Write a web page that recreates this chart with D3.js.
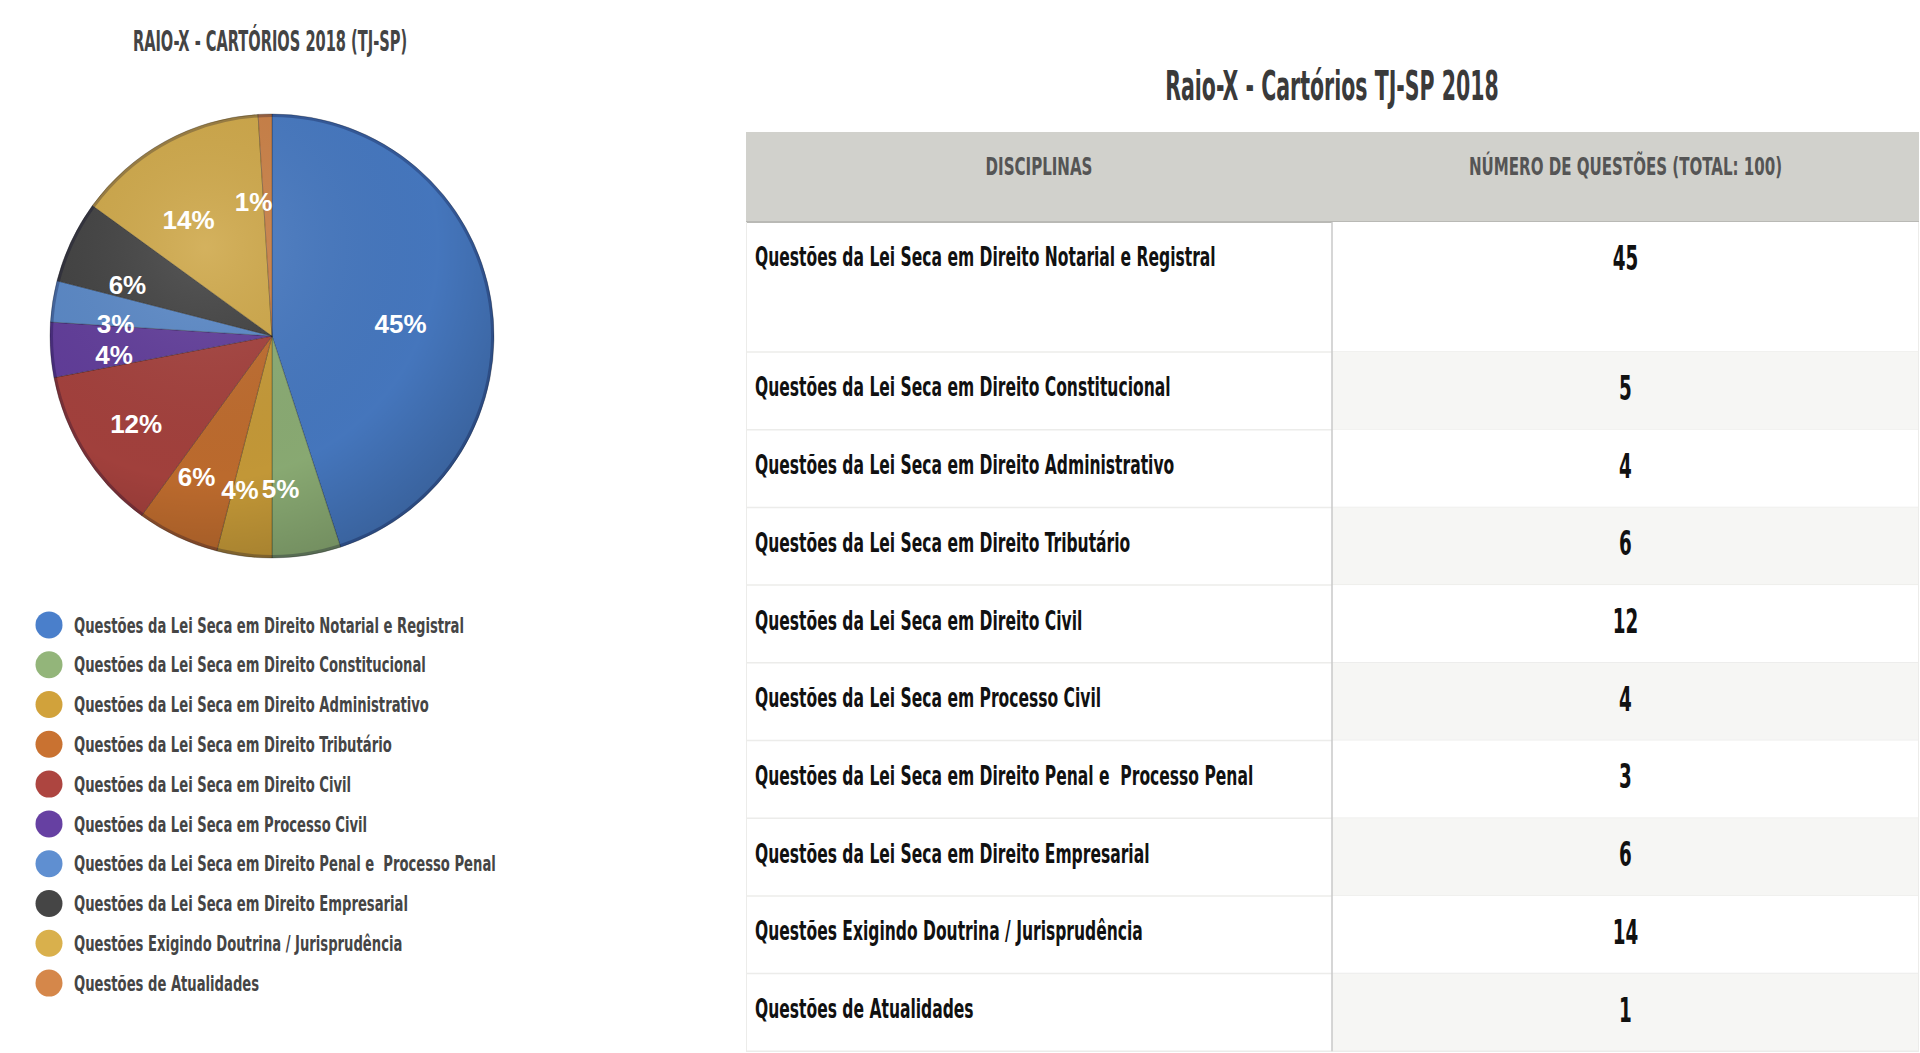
<!DOCTYPE html>
<html>
<head>
<meta charset="utf-8">
<script src="https://cdn.jsdelivr.net/npm/d3@7"></script>
<style>
  html, body { margin: 0; padding: 0; background: #fff; }
  svg { display: block; }
  .cond { font-family: "Liberation Sans Narrow", "DejaVu Sans Condensed", "Liberation Sans", sans-serif; font-weight: bold; font-stretch: condensed; white-space: pre; }
  .pct { font-family: "Liberation Sans", Arial, sans-serif; fill: #fff; font-weight: bold; }
</style>
</head>
<body>
<div id="chart"></div>
<script>
// data
var disciplinas = [
  "Questões da Lei Seca em Direito Notarial e Registral",
  "Questões da Lei Seca em Direito Constitucional",
  "Questões da Lei Seca em Direito Administrativo",
  "Questões da Lei Seca em Direito Tributário",
  "Questões da Lei Seca em Direito Civil",
  "Questões da Lei Seca em Processo Civil",
  "Questões da Lei Seca em Direito Penal e  Processo Penal",
  "Questões da Lei Seca em Direito Empresarial",
  "Questões Exigindo Doutrina / Jurisprudência",
  "Questões de Atualidades"
];
var questoes = [45, 5, 4, 6, 12, 4, 3, 6, 14, 1];
var cores = ["#4a7fcb", "#93b57a", "#d1a23b", "#c97231", "#ad4540", "#6640a2", "#5f8fd1", "#454545", "#d9b04c", "#d5874a"];
var tituloPizza = "RAIO-X - CARTÓRIOS 2018 (TJ-SP)";
var tituloTabela = "Raio-X - Cartórios TJ-SP 2018";
var cabecalho = ["DISCIPLINAS", "NÚMERO DE QUESTÕES (TOTAL: 100)"];

var W = 1920, H = 1053;

var svg = d3.select("#chart").append("svg").attr("width", W).attr("height", H);

// condensed text helper (sq = horizontal squeeze of the display font)
function ctext(parent, x, y, txt, size, fill, anchor, sq) {
  return parent.append("text")
    .attr("class", "cond")
    .attr("transform", "translate(" + x + "," + y + ") scale(" + sq + ",1)")
    .attr("text-anchor", anchor || "start")
    .attr("dy", "0.35em")
    .attr("font-size", size)
    .attr("fill", fill)
    .text(txt);
}

// ---------- pie ----------
var cx = 272, cy = 336, r = 222;
var total = d3.sum(questoes);

var defs = svg.append("defs");
var shade = defs.append("radialGradient").attr("id", "shade")
  .attr("cx", "35%").attr("cy", "30%").attr("r", "75%");
shade.append("stop").attr("offset", "0%").attr("stop-color", "#fff").attr("stop-opacity", 0.12);
shade.append("stop").attr("offset", "70%").attr("stop-color", "#000").attr("stop-opacity", 0.02);
shade.append("stop").attr("offset", "100%").attr("stop-color", "#000").attr("stop-opacity", 0.18);

ctext(svg, 270, 41, tituloPizza, 28, "#444", "middle", 0.58);

var pie = d3.pie().sort(null).value(function(d) { return d; });
var arc = d3.arc().innerRadius(0).outerRadius(r);
var labelArc = d3.arc().innerRadius(r * 0.65).outerRadius(r * 0.65);
var arcs = pie(questoes);

var gp = svg.append("g").attr("transform", "translate(" + cx + "," + cy + ")");

gp.selectAll("path.slice")
  .data(arcs)
  .enter().append("path")
    .attr("class", "slice")
    .attr("d", arc)
    .attr("fill", function(d, i) { return d3.color(cores[i]).darker(0.15); })
    .attr("stroke", "rgba(0,0,0,0.25)")
    .attr("stroke-width", 1);

gp.append("circle").attr("r", r).attr("fill", "url(#shade)");
gp.append("circle").attr("r", r - 1.5).attr("fill", "none")
  .attr("stroke", "rgba(0,0,40,0.25)").attr("stroke-width", 3);

// labels sit a little lower-left, as in the tilted original
gp.append("g").attr("transform", "translate(-14,10)")
  .selectAll("text.pct")
  .data(arcs)
  .enter().append("text")
    .attr("class", "pct")
    .attr("transform", function(d) { return "translate(" + labelArc.centroid(d) + ")"; })
    .attr("text-anchor", "middle")
    .attr("dy", "0.36em")
    .attr("font-size", 26)
    .text(function(d) { return Math.round(d.data / total * 100) + "%"; });

// ---------- legend ----------
var ly = d3.scaleBand().domain(d3.range(disciplinas.length)).range([605, 1003]);
var leg = svg.append("g").selectAll("g")
  .data(disciplinas)
  .enter().append("g")
    .attr("transform", function(d, i) { return "translate(0," + (ly(i) + ly.bandwidth() / 2) + ")"; });
leg.append("circle").attr("cx", 49).attr("r", 13.5).attr("fill", function(d, i) { return cores[i]; });
leg.each(function(d) { ctext(d3.select(this), 74, 0, d, 22, "#454545", "start", 0.665); });

// ---------- table ----------
var tx0 = 746, tx1 = 1919, tdiv = 1332;
var headTop = 132, headBot = 222, firstRowH = 130, rowH = 77.7;

ctext(svg, tdiv, 86, tituloTabela, 40, "#3a3a3a", "middle", 0.57);

function rowTop(i) { return i === 0 ? headBot : headBot + firstRowH + (i - 1) * rowH; }
function rowBot(i) { return i === 0 ? headBot + firstRowH : rowTop(i) + rowH; }

var tab = svg.append("g");
tab.append("rect").attr("x", tx0).attr("y", headTop).attr("width", tx1 - tx0).attr("height", headBot - headTop)
  .attr("fill", "#d1d1cc");
tab.append("line").attr("x1", tx0).attr("x2", tx1).attr("y1", headBot).attr("y2", headBot)
  .attr("stroke", "#b9b9b5").attr("stroke-width", 2);
ctext(tab, (tx0 + tdiv) / 2, 166, cabecalho[0], 25, "#555", "middle", 0.67);
ctext(tab, (tdiv + tx1) / 2, 166, cabecalho[1], 25, "#555", "middle", 0.67);

var rows = tab.selectAll("g.row")
  .data(disciplinas)
  .enter().append("g").attr("class", "row");

rows.append("rect")
  .attr("x", tdiv).attr("y", function(d, i) { return rowTop(i); })
  .attr("width", tx1 - tdiv).attr("height", function(d, i) { return rowBot(i) - rowTop(i); })
  .attr("fill", function(d, i) { return i % 2 ? "#f6f6f4" : "#fff"; });

rows.append("line")
  .attr("x1", tx0).attr("x2", tx1)
  .attr("y1", function(d, i) { return rowBot(i); }).attr("y2", function(d, i) { return rowBot(i); })
  .attr("stroke", "#ececea").attr("stroke-width", 1.5);

rows.each(function(d, i) {
  var g = d3.select(this), y = rowTop(i) + 35;
  ctext(g, 755, y, d, 27, "#111", "start", 0.64);
  ctext(g, (tdiv + tx1) / 2, y + 1, questoes[i], 34, "#111", "middle", 0.6);
});

tab.append("line").attr("x1", tdiv).attr("x2", tdiv).attr("y1", headBot).attr("y2", rowBot(disciplinas.length - 1))
  .attr("stroke", "#c9c9c9").attr("stroke-width", 1.5);
tab.append("line").attr("x1", tx0 + 0.5).attr("x2", tx0 + 0.5).attr("y1", headBot).attr("y2", rowBot(disciplinas.length - 1))
  .attr("stroke", "#ececea").attr("stroke-width", 1);
tab.append("line").attr("x1", tx1 - 0.5).attr("x2", tx1 - 0.5).attr("y1", headBot).attr("y2", rowBot(disciplinas.length - 1))
  .attr("stroke", "#ececea").attr("stroke-width", 1);
</script>
</body>
</html>
